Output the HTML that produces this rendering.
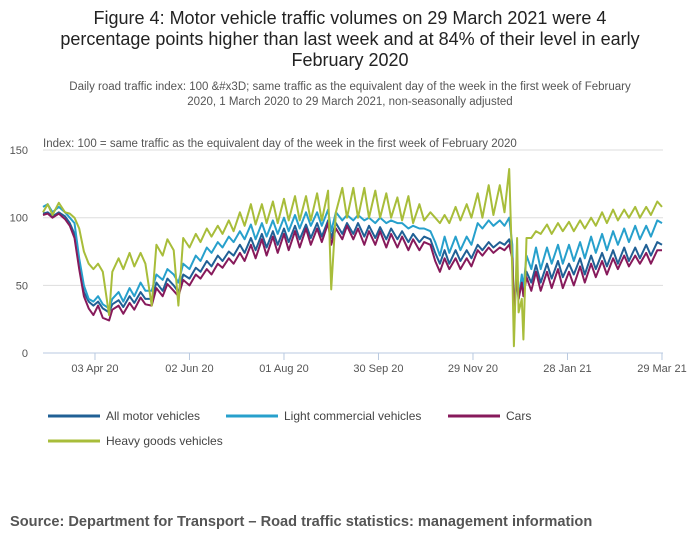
<!DOCTYPE html>
<html><head><meta charset="utf-8"><style>
body{margin:0;width:700px;height:549px;background:#fff;font-family:"Liberation Sans",sans-serif;overflow:hidden}
svg{display:block}
</style></head><body>
<svg id="c" width="700" height="549">
<text x="350" y="24" text-anchor="middle" font-size="18" fill="#222">Figure 4: Motor vehicle traffic volumes on 29 March 2021 were 4</text>
<text x="350" y="45" text-anchor="middle" font-size="18" fill="#222">percentage points higher than last week and at 84% of their level in early</text>
<text x="350" y="66" text-anchor="middle" font-size="18" fill="#222">February 2020</text>
<text x="350" y="90" text-anchor="middle" font-size="11.5" fill="#555">Daily road traffic index: 100 &amp;#x3D; same traffic as the equivalent day of the week in the first week of February</text>
<text x="350" y="105" text-anchor="middle" font-size="11.5" fill="#555">2020, 1 March 2020 to 29 March 2021, non-seasonally adjusted</text>
<text x="43" y="147" font-size="11.5" fill="#555">Index: 100 = same traffic as the equivalent day of the week in the first week of February 2020</text>
<g id="grid"></g><g id="series"></g><g id="xt"></g>
<g font-size="12" fill="#444">
<g><line x1="48" y1="416" x2="100" y2="416" stroke="#206095" stroke-width="3"/><text x="106" y="420">All motor vehicles</text></g>
<g><line x1="226" y1="416" x2="278" y2="416" stroke="#27a0cc" stroke-width="3"/><text x="284" y="420">Light commercial vehicles</text></g>
<g><line x1="448" y1="416" x2="500" y2="416" stroke="#871a5b" stroke-width="3"/><text x="506" y="420">Cars</text></g>
<g><line x1="48" y1="441" x2="100" y2="441" stroke="#a8bd3a" stroke-width="3"/><text x="106" y="445">Heavy goods vehicles</text></g>
</g>
<text x="10" y="526" font-size="14.6" font-weight="bold" fill="#555">Source: Department for Transport – Road traffic statistics: management information</text>
</svg>
<script>
const days=[0,3,6,10,14,17,20,23,26,29,32,35,38,42,44,48,51,55,58,62,65,69,72,76,79,83,86,89,93,97,100,104,107,111,114,118,121,125,128,132,135,139,142,146,149,153,156,160,163,167,170,174,177,181,183,186,190,193,197,200,204,207,211,214,218,221,225,228,232,235,239,242,246,249,252,255,258,262,265,269,272,276,279,283,286,290,293,296,298,299,301,302,304,305,307,310,313,316,320,323,327,330,334,337,341,344,348,351,355,358,362,365,369,372,376,379,383,386,390,393];
const allMotor=[103,104,101,104,101,96,88,65,45,38,35,38,33,30,36,39,34,42,37,45,40,40,52,46,55,50,45,58,55,63,60,68,64,72,68,75,72,80,74,85,76,88,78,90,80,92,82,94,84,95,85,96,86,98,85,96,88,96,88,96,86,94,85,93,84,92,84,90,82,88,82,86,84,74,66,76,66,76,68,76,70,80,76,82,78,82,80,84,70,30,55,40,55,45,60,52,65,52,66,55,68,56,66,58,70,58,72,62,74,64,76,66,78,68,78,70,80,72,82,80];
const lcv=[108,110,104,108,104,100,96,70,50,40,38,42,36,33,40,45,38,48,42,52,46,46,58,54,62,58,52,66,62,72,68,78,74,82,78,86,82,90,84,95,84,96,86,98,88,100,90,102,92,104,94,104,94,106,90,104,98,102,98,102,98,100,96,100,96,98,96,96,92,94,92,92,90,82,72,86,74,86,76,86,80,96,92,98,94,98,94,100,80,30,60,40,58,48,72,62,78,62,78,66,80,66,80,68,82,70,86,74,88,76,90,80,92,82,94,84,94,86,98,96];
const cars=[102,103,100,103,99,94,85,62,42,33,28,35,26,24,32,35,29,37,32,41,36,35,48,42,51,46,42,54,50,58,55,62,58,66,63,70,66,74,68,80,70,84,72,86,74,88,76,90,78,92,80,92,82,96,80,92,84,94,84,92,80,90,80,90,78,88,78,86,76,84,76,82,80,68,60,70,62,70,62,70,64,76,72,78,74,78,76,80,70,35,55,40,52,42,56,46,60,46,60,48,62,48,60,50,64,52,66,56,68,58,70,62,72,64,72,66,74,66,76,76];
const hgv=[104,110,102,111,104,103,100,92,75,66,62,66,60,28,60,70,62,74,64,74,66,35,80,72,84,76,35,85,78,88,82,92,86,94,88,98,90,104,94,110,95,110,96,112,96,114,98,116,98,116,98,118,98,120,47,104,122,100,122,100,122,100,120,100,118,100,115,98,116,96,110,98,104,100,96,102,96,108,98,110,100,118,100,124,102,124,104,136,60,5,85,30,40,10,85,85,90,88,95,88,96,90,97,90,98,92,100,94,104,96,106,98,106,100,108,100,108,102,112,108];
const yTicks=[0,50,100,150];
const xTickDays=[33,93,153,213,273,333,393];
const xTickLabels=["03 Apr 20","02 Jun 20","01 Aug 20","30 Sep 20","29 Nov 20","28 Jan 21","29 Mar 21"];
const X=d=>43+d*1.575, Y=v=>353-v*1.353;
const NS="http://www.w3.org/2000/svg";
const grid=document.getElementById('grid');
yTicks.forEach(t=>{
  const l=document.createElementNS(NS,'line');
  
  
  l.setAttribute('x1',43);l.setAttribute('x2',663);l.setAttribute('y1',Y(t));l.setAttribute('y2',Y(t));
  l.setAttribute('stroke',t===0?'#b8c9e0':'#dddddd');l.setAttribute('stroke-width',1);
  grid.appendChild(l);
  const tx=document.createElementNS(NS,'text');
  
  
  tx.setAttribute('x',28);tx.setAttribute('y',Y(t)+4);tx.setAttribute('text-anchor','end');
  tx.setAttribute('font-size','11');tx.setAttribute('fill','#555');tx.textContent=t;
  grid.appendChild(tx);
});
const xt=document.getElementById('xt');
xTickDays.forEach((d,i)=>{
  const l=document.createElementNS(NS,'line');
  
  
  l.setAttribute('x1',X(d));l.setAttribute('x2',X(d));l.setAttribute('y1',353);l.setAttribute('y2',360);
  l.setAttribute('stroke','#b8c9e0');xt.appendChild(l);
  const tx=document.createElementNS(NS,'text');
  
  
  tx.setAttribute('x',X(d));tx.setAttribute('y',372);tx.setAttribute('text-anchor','middle');
  tx.setAttribute('font-size','11');tx.setAttribute('fill','#555');tx.textContent=xTickLabels[i];
  xt.appendChild(tx);
});
const sg=document.getElementById('series');
[[allMotor,'#206095','line-all-motor-vehicles'],[lcv,'#27a0cc','line-light-commercial'],[cars,'#871a5b','line-cars'],[hgv,'#a8bd3a','line-hgv']].forEach(s=>{
  const p=document.createElementNS(NS,'path');
  
  
  p.setAttribute('d',s[0].map((v,i)=>(i?'L':'M')+X(days[i]).toFixed(1)+','+Y(v).toFixed(1)).join(''));
  p.setAttribute('fill','none');p.setAttribute('stroke',s[1]);p.setAttribute('stroke-width','2');p.setAttribute('stroke-linejoin','round');
  sg.appendChild(p);
});
</script>
</body></html>
